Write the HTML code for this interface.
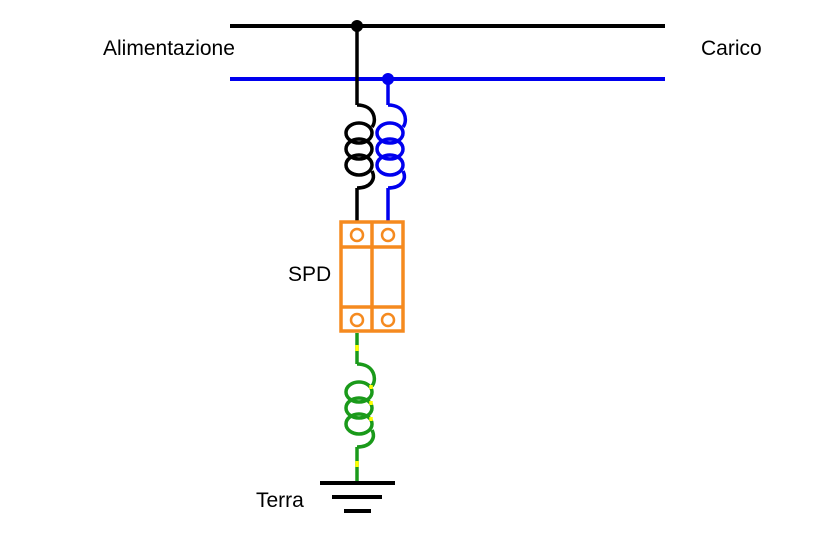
<!DOCTYPE html>
<html><head><style>
html,body{margin:0;padding:0;background:#fff;}
text{font-family:"Liberation Sans",sans-serif;font-size:21px;fill:#000;}
</style></head><body>
<svg width="838" height="529" viewBox="0 0 838 529" xmlns="http://www.w3.org/2000/svg">
<rect width="838" height="529" fill="#fff"/>
<line x1="230" y1="26" x2="665" y2="26" stroke="#000" stroke-width="4"/>
<line x1="230" y1="79" x2="665" y2="79" stroke="#0000ee" stroke-width="4"/>
<circle cx="357" cy="26" r="6" fill="#000"/>
<circle cx="388" cy="79" r="6" fill="#0000ee"/>
<text x="103" y="55">Alimentazione</text>
<text x="701" y="55">Carico</text>
<text x="288" y="281">SPD</text>
<text x="256" y="507">Terra</text>
<defs>
<g id="coil" fill="none" stroke-width="3.5">
<path d="M0,0 C18,0 20,16 15,22"/>
<ellipse cx="2" cy="28" rx="13" ry="10"/>
<ellipse cx="2" cy="44" rx="13" ry="10"/>
<ellipse cx="2" cy="60" rx="13" ry="10"/>
<path d="M15,66 C19,74 14,83 0,83"/>
</g>
</defs>
<g stroke="#000" stroke-width="3.5" fill="none">
<line x1="357" y1="26" x2="357" y2="105"/>
<use href="#coil" x="357" y="105"/>
<line x1="357" y1="188" x2="357" y2="222"/>
</g>
<g stroke="#0000ee" stroke-width="3.5" fill="none">
<line x1="388" y1="79" x2="388" y2="105"/>
<use href="#coil" x="388" y="105"/>
<line x1="388" y1="188" x2="388" y2="222"/>
</g>
<g fill="none" stroke="#f58a1f" stroke-width="3.5">
<rect x="341" y="222" width="62" height="109"/>
<line x1="372" y1="222" x2="372" y2="331"/>
<line x1="341" y1="247" x2="403" y2="247"/>
<line x1="341" y1="307" x2="403" y2="307"/>
<circle cx="357" cy="235" r="6" stroke-width="2.5"/>
<circle cx="388" cy="235" r="6" stroke-width="2.5"/>
<circle cx="357" cy="320" r="6" stroke-width="2.5"/>
<circle cx="388" cy="320" r="6" stroke-width="2.5"/>
</g>
<g stroke="#1a9a1a" stroke-width="3.5" fill="none">
<line x1="357" y1="333" x2="357" y2="364"/>
<use href="#coil" x="357" y="364"/>
<line x1="357" y1="447" x2="357" y2="483"/>
</g>
<g stroke="#ffff00" stroke-width="3.5">
<line x1="357" y1="345" x2="357" y2="351"/>
<line x1="357" y1="461" x2="357" y2="467"/>
<line x1="371" y1="385" x2="371" y2="389"/>
<line x1="371" y1="401" x2="371" y2="405"/>
<line x1="371" y1="417" x2="371" y2="421"/>
</g>
<g stroke="#000" stroke-width="4">
<line x1="320" y1="483" x2="395" y2="483"/>
<line x1="332" y1="497" x2="382" y2="497"/>
<line x1="344" y1="511" x2="371" y2="511"/>
</g>
</svg>
</body></html>
